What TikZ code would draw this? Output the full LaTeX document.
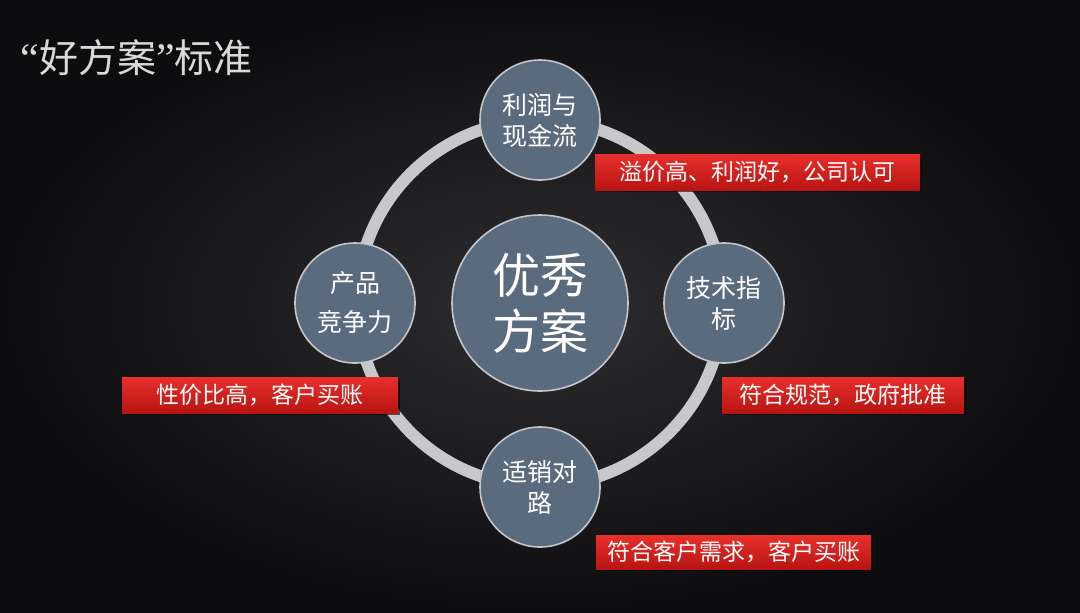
\documentclass[tikz,border=0pt]{standalone}
\usepackage{fontspec}
\setmainfont{Noto Sans CJK SC}
\newfontfamily\quotefont{Liberation Serif}
\usetikzlibrary{shadows}
\definecolor{bgin}{HTML}{2E2E31}
\definecolor{bgout}{HTML}{0D0D0F}
\definecolor{slate}{HTML}{5B6B7E}
\definecolor{rim}{HTML}{C4C6C9}
\definecolor{ringgray}{HTML}{C8C8CA}
\definecolor{redtop}{HTML}{E8302C}
\definecolor{redbot}{HTML}{B81412}
\definecolor{titlegray}{HTML}{D9D9D9}
\begin{document}
\begin{tikzpicture}[x=0.5pt,y=-0.5pt,
  sub/.style={circle, fill=slate, draw=rim, line width=0.8pt, minimum size=60pt,
    inner sep=0pt, text=white, align=center, font=\fontsize{12.5}{15.5}\selectfont},
  core/.style={circle, fill=slate, draw=rim, line width=0.8pt, minimum size=88pt,
    inner sep=0pt, text=white, align=center, font=\fontsize{24}{28}\selectfont},
  tag/.style={rectangle, top color=redtop, bottom color=redbot, draw=none,
    minimum height=18pt, inner sep=0pt, text=white,
    font=\fontsize{11.5}{13}\selectfont,
    drop shadow={shadow xshift=1pt, shadow yshift=-1.2pt, opacity=0.6, fill=black}},
  ring/.style={draw=ringgray, line width=6pt}
]
\useasboundingbox (0,0) rectangle (1080,612);
\shade[inner color=bgin, outer color=bgout] (0,0) rectangle (1080,612);

\coordinate (o) at (540,303);
\draw[ring] (o) circle[radius=91.5pt];

\node[anchor=west, text=titlegray, font=\fontsize{19.5}{23}\selectfont, inner sep=0pt] (title) at (20,58) {{\quotefont\fontsize{21}{23}\selectfont “}好方案{\quotefont\fontsize{21}{23}\selectfont ”}标准};

\node[core] (center) at (o) {优秀\\方案};
\node[sub] (top) at (540,120) {利润与\\现金流};
\node[sub] (right) at (724,303) {技术指\\标};
\node[sub] (left) at (355,303) {产品\\[4pt]竞争力};
\node[sub] (bottom) at (540,487) {适销对\\路};

\node[tag, minimum width=162.5pt] (tagtop) at (757.5,172) {溢价高、利润好，公司认可};
\node[tag, minimum width=138pt] (tagleft) at (260,395) {性价比高，客户买账};
\node[tag, minimum width=121pt] (tagright) at (843,395) {符合规范，政府批准};
\node[tag, minimum width=137.5pt, minimum height=17pt] (tagbottom) at (733.5,552) {符合客户需求，客户买账};
\end{tikzpicture}
\end{document}
